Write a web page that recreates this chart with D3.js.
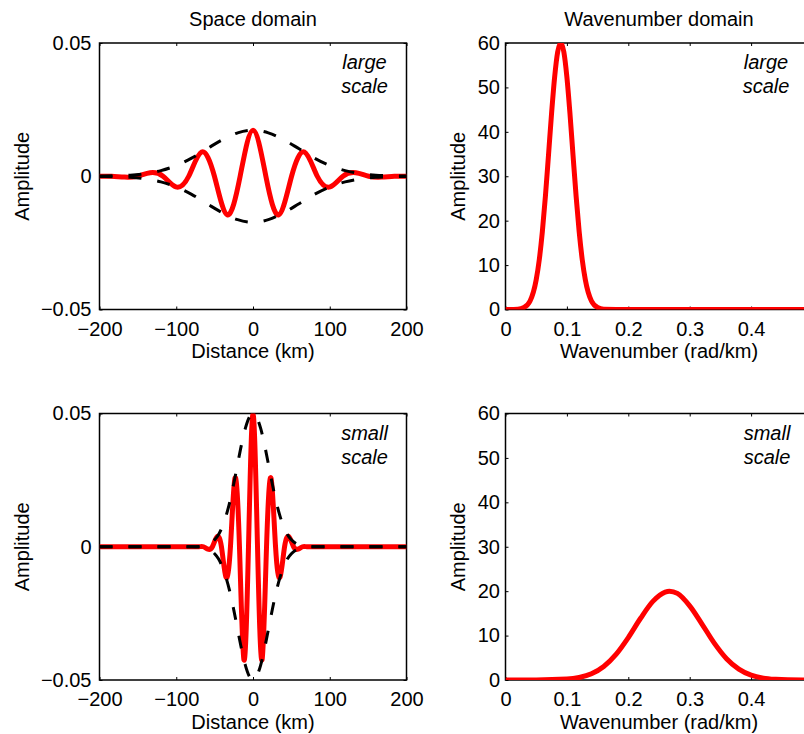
<!DOCTYPE html>
<html>
<head>
<meta charset="utf-8">
<script src="https://cdn.jsdelivr.net/npm/d3@7"></script>
<style>
  html, body { margin: 0; padding: 0; background: #fff; }
  svg { display: block; }
  text { font-family: "Liberation Sans", Arial, Helvetica, sans-serif; fill: #000; }
</style>
</head>
<body>
<svg id="fig" width="804" height="734"></svg>
<script>
// ---- Space domain: wave packets (distance in km, amplitude) ----
const largeX = [-200, -184.25, -167.5, -150.75, -134, -117.25, -100.5, -83.75, -67, -50.25, -33.5, -16.75,
                0, 16.75, 33.5, 50.25, 67, 83.75, 100.5, 117.25, 134, 150.75, 167.5, 184.25, 200];
const largeY = [0, 0, -0.0003, 0, 0.0013, 0, -0.0040, 0, 0.0091, 0, -0.0145, 0,
                0.0173, 0, -0.0145, 0, 0.0091, 0, -0.0040, 0, 0.0013, 0, -0.0003, 0, 0];

const largeEnvX = [-200, -180, -160, -140, -120, -100, -80, -60, -40, -20, 0,
                   20, 40, 60, 80, 100, 120, 140, 160, 180, 200];
const largeEnvY = [0.0001, 0.0002, 0.0004, 0.0010, 0.0021, 0.0040, 0.0068, 0.0103, 0.0137, 0.0163, 0.0173,
                   0.0163, 0.0137, 0.0103, 0.0068, 0.0040, 0.0021, 0.0010, 0.0004, 0.0002, 0.0001];

const smallX = [-200, -160, -125, -100, -82, -70.5, -64.625, -58.75, -52.875, -47, -41.125, -35.25,
                -29.375, -23.5, -17.625, -11.75, -5.875, 0, 5.875, 11.75, 17.625, 23.5, 29.375,
                35.25, 41.125, 47, 52.875, 58.75, 64.625, 70.5, 82, 100, 125, 160, 200];
const smallY = [0, 0, 0, 0, 0, 0, 0, -0.0009, 0, 0.0037, 0, -0.0114,
                0, 0.0257, 0, -0.0425, 0, 0.0498, 0, -0.0425, 0, 0.0257, 0,
                -0.0114, 0, 0.0037, 0, -0.0009, 0, 0, 0, 0, 0, 0, 0];

const smallEnvX = [-200, -150, -100, -80, -70, -65, -60, -55, -50, -45, -40, -35, -30, -25, -20, -15, -10, -5,
                   0, 5, 10, 15, 20, 25, 30, 35, 40, 45, 50, 55, 60, 65, 70, 80, 100, 150, 200];
const smallEnvY = [0, 0, 0, 0, 0.0001, 0.0003, 0.0007, 0.0014, 0.0026, 0.0045, 0.0075, 0.0117, 0.0171, 0.0238,
                   0.0311, 0.0383, 0.0444, 0.0485, 0.05, 0.0485, 0.0444, 0.0383, 0.0311, 0.0238, 0.0171,
                   0.0117, 0.0075, 0.0045, 0.0026, 0.0014, 0.0007, 0.0003, 0.0001, 0, 0, 0, 0];

// ---- Wavenumber domain: amplitude spectra (rad/km) ----
const specLargeK = [0, 0.02, 0.03, 0.04, 0.05, 0.055, 0.06, 0.065, 0.07, 0.075, 0.08, 0.085, 0.09,
                    0.095, 0.10, 0.105, 0.11, 0.115, 0.12, 0.125, 0.13, 0.14, 0.15, 0.16, 0.2, 0.3, 0.4, 0.5];
const specLargeA = [0, 0.07, 0.43, 1.9, 6.7, 11.2, 17.5, 25.5, 34.7, 44.1, 52.3, 58.0, 60,
                    58.0, 52.3, 44.1, 34.7, 25.5, 17.5, 11.2, 6.7, 1.9, 0.43, 0.07, 0, 0, 0, 0];

const specSmallK = [0, 0.05, 0.1, 0.12, 0.14, 0.16, 0.18, 0.2, 0.22, 0.24, 0.26, 0.267, 0.28,
                    0.3, 0.32, 0.34, 0.36, 0.38, 0.4, 0.42, 0.44, 0.46, 0.5];
const specSmallA = [0, 0.01, 0.2, 0.57, 1.41, 3.05, 5.77, 9.56, 13.9, 17.7, 19.8, 20, 19.5,
                    16.7, 12.6, 8.3, 4.8, 2.45, 1.09, 0.43, 0.15, 0.04, 0];

// ---- Axis ticks ----
const spaceXTicks = [-200, -100, 0, 100, 200];
const spaceXLabels = ["\u2212200", "\u2212100", "0", "100", "200"];
const spaceYTicks = [-0.05, 0, 0.05];
const spaceYLabels = ["\u22120.05", "0", "0.05"];
const waveXTicks = [0, 0.1, 0.2, 0.3, 0.4];
const waveXLabels = ["0", "0.1", "0.2", "0.3", "0.4"];
const waveYTicks = [0, 10, 20, 30, 40, 50, 60];
const waveYLabels = ["0", "10", "20", "30", "40", "50", "60"];

const svg = d3.select("#fig");
const W = 307, H = 266.5, FS = 20;

const zip = (xs, ys) => xs.map((x, i) => [x, ys[i]]);

const panels = [
  { id: "p1", x0: 99.5, y0: 43, kind: "space", title: "Space domain", note: ["large", "scale"], noteX: 364.5,
    series: [{ pts: zip(largeX, largeY), type: "signal" }, { pts: zip(largeEnvX, largeEnvY), type: "env" }] },
  { id: "p2", x0: 505.5, y0: 43, kind: "wave", title: "Wavenumber domain", note: ["large", "scale"], noteX: 766,
    series: [{ pts: zip(specLargeK, specLargeA), type: "spec" }] },
  { id: "p3", x0: 99.5, y0: 413.5, kind: "space", title: null, note: ["small", "scale"], noteX: 364.5,
    series: [{ pts: zip(smallX, smallY), type: "signal" }, { pts: zip(smallEnvX, smallEnvY), type: "env" }] },
  { id: "p4", x0: 505.5, y0: 413.5, kind: "wave", title: null, note: ["small", "scale"], noteX: 767,
    series: [{ pts: zip(specSmallK, specSmallA), type: "spec" }] }
];

panels.forEach(p => {
  const isSpace = p.kind === "space";
  const x = d3.scaleLinear().domain(isSpace ? [-200, 200] : [0, 0.5]).range([p.x0, p.x0 + W]);
  const y = d3.scaleLinear().domain(isSpace ? [-0.05, 0.05] : [0, 60]).range([p.y0 + H, p.y0]);
  const xT = isSpace ? spaceXTicks : waveXTicks, xL = isSpace ? spaceXLabels : waveXLabels;
  const yT = isSpace ? spaceYTicks : waveYTicks, yL = isSpace ? spaceYLabels : waveYLabels;

  const g = svg.append("g");

  // inward ticks on all four sides
  const styleAxis = sel => {
    sel.select(".domain").remove();
    sel.selectAll(".tick line").attr("stroke", "#000").attr("stroke-width", 1);
    sel.selectAll("text").attr("font-size", FS).attr("font-family", null).attr("fill", "#000");
  };
  g.append("g").attr("transform", `translate(0,${p.y0 + H})`)
    .call(d3.axisBottom(x).tickValues(xT).tickFormat((d, i) => xL[i]).tickSize(-3).tickSizeOuter(0).tickPadding(12))
    .call(styleAxis);
  g.append("g").attr("transform", `translate(0,${p.y0})`)
    .call(d3.axisTop(x).tickValues(xT).tickFormat("").tickSize(-3).tickSizeOuter(0))
    .call(styleAxis);
  g.append("g").attr("transform", `translate(${p.x0},0)`)
    .call(d3.axisLeft(y).tickValues(yT).tickFormat((d, i) => yL[i]).tickSize(-3).tickSizeOuter(0).tickPadding(isSpace ? 8 : 5.5))
    .call(styleAxis);
  g.append("g").attr("transform", `translate(${p.x0 + W},0)`)
    .call(d3.axisRight(y).tickValues(yT).tickFormat("").tickSize(-3).tickSizeOuter(0))
    .call(styleAxis);

  // box
  g.append("rect").attr("x", p.x0).attr("y", p.y0).attr("width", W).attr("height", H)
    .attr("fill", "none").attr("stroke", "#000").attr("stroke-width", 1.5);

  // clipped data layer
  svg.append("clipPath").attr("id", "clip-" + p.id)
    .append("rect").attr("x", p.x0).attr("y", p.y0).attr("width", W).attr("height", H);
  const data = g.append("g").attr("clip-path", `url(#clip-${p.id})`);

  p.series.forEach(s => {
    if (s.type === "signal") {
      const line = d3.line().x(d => x(d[0])).y(d => y(d[1])).curve(d3.curveNatural);
      data.append("path").attr("d", line(s.pts)).attr("fill", "none")
        .attr("stroke", "#ff0000").attr("stroke-width", 5).attr("stroke-linejoin", "round");
    } else if (s.type === "spec") {
      const line = d3.line().x(d => x(d[0])).y(d => y(d[1])).curve(d3.curveMonotoneX);
      data.append("path").attr("d", line(s.pts)).attr("fill", "none")
        .attr("stroke", "#ff0000").attr("stroke-width", 5).attr("stroke-linejoin", "round");
    }
  });
  p.series.filter(s => s.type === "env").forEach(s => {
    const upper = d3.line().x(d => x(d[0])).y(d => y(d[1])).curve(d3.curveMonotoneX);
    const lower = d3.line().x(d => x(d[0])).y(d => y(-d[1])).curve(d3.curveMonotoneX);
    [upper, lower].forEach(l => {
      data.append("path").attr("d", l(s.pts)).attr("fill", "none")
        .attr("stroke", "#000").attr("stroke-width", 3).attr("stroke-dasharray", "13,16");
    });
  });

  // labels
  const xc = p.x0 + W / 2;
  if (p.title) {
    g.append("text").attr("x", xc).attr("y", p.y0 - 17).attr("text-anchor", "middle")
      .attr("font-size", FS).text(p.title);
  }
  g.append("text").attr("x", xc).attr("y", p.y0 + H + 48.5).attr("text-anchor", "middle")
    .attr("font-size", FS).text(isSpace ? "Distance (km)" : "Wavenumber (rad/km)");
  const ax = isSpace ? 29.3 : 465;
  g.append("text").attr("transform", `translate(${ax},${p.y0 + H / 2}) rotate(-90)`)
    .attr("text-anchor", "middle").attr("font-size", FS).text("Amplitude");
  p.note.forEach((t, i) => {
    g.append("text").attr("x", p.noteX).attr("y", p.y0 + 26 + i * 24).attr("text-anchor", "middle")
      .attr("font-size", FS).attr("font-style", "italic").text(t);
  });
});
</script>
</body>
</html>
